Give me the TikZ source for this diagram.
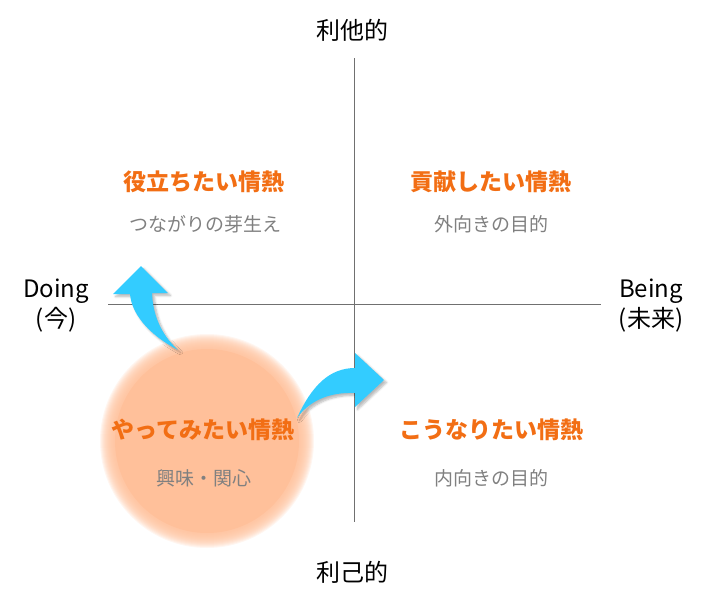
\documentclass[tikz,border=0pt]{standalone}
\usepackage{fontspec}
\setmainfont{Noto Sans CJK JP}
\usetikzlibrary{shadows.blur}
\definecolor{peach}{RGB}{255,192,154}
\definecolor{hot}{RGB}{242,110,20}
\definecolor{txtgray}{RGB}{128,128,128}
\definecolor{axisgray}{RGB}{112,112,112}
\definecolor{sky}{RGB}{51,204,255}
\tikzset{
  axis/.style={draw=axisgray, line width=0.9pt},
  axlabel/.style={font=\fontsize{24}{30}\selectfont, text=black, align=center, inner sep=0pt},
  passion/.style={font=\fontsize{23}{27}\selectfont\bfseries, text=hot, inner sep=0pt},
  sub/.style={font=\fontsize{19}{23}\selectfont, text=txtgray, inner sep=0pt},
  bluearrow/.style={fill=sky, line join=round, blur shadow={shadow xshift=2.5pt, shadow yshift=-2.5pt, shadow blur steps=6, shadow opacity=28}},
  softring/.style={fill=peach, fill opacity=0.14},
}
\begin{document}
\begin{tikzpicture}[x=1pt,y=-1pt]
\useasboundingbox (0,0) rectangle (709,606);
% axes
\coordinate (vt) at (354,58);
\coordinate (vb) at (354,522);
\coordinate (hl) at (108,304);
\coordinate (hr) at (601,304);
\draw[axis] (vt) -- (vb);
\draw[axis] (hl) -- (hr);
% axis labels
\node[axlabel] (altru) at (352,30) {利他的};
\node[axlabel] (ego) at (352,572) {利己的};
\node[axlabel] (doing) at (56,306) {Doing\\(今)};
\node[axlabel] (being) at (651,306) {Being\\(未来)};
% soft-edged circle
\coordinate (cc) at (207,441);
\foreach \i in {0,...,15} {
  \fill[softring] (cc) circle ({92+\i});
}
\fill[peach] (cc) circle (92);
% quadrant texts
\node[passion] (q1) at (204,182) {役立ちたい情熱};
\node[sub] (q1s) at (205,224) {つながりの芽生え};
\node[passion] (q2) at (491,182) {貢献したい情熱};
\node[sub] (q2s) at (491,224) {外向きの目的};
\node[passion] (q3) at (203,430) {やってみたい情熱};
\node[sub] (q3s) at (204,478) {興味・関心};
\node[passion] (q4) at (491,430) {こうなりたい情熱};
\node[sub] (q4s) at (491,478) {内向きの目的};
% arrows
\fill[bluearrow] (178,350) .. controls (155,338) and (132,318) .. (130,294)
  -- (113,294) -- (141,266) -- (168,293) -- (152,293)
  .. controls (153,320) and (165,338) .. (178,350) -- cycle;
\fill[bluearrow] (297,418) .. controls (312,385) and (330,368) .. (355,368)
  -- (355,353) -- (384,380) -- (355,407) -- (355,393)
  .. controls (330,392) and (310,400) .. (297,418) -- cycle;
\end{tikzpicture}
\end{document}
